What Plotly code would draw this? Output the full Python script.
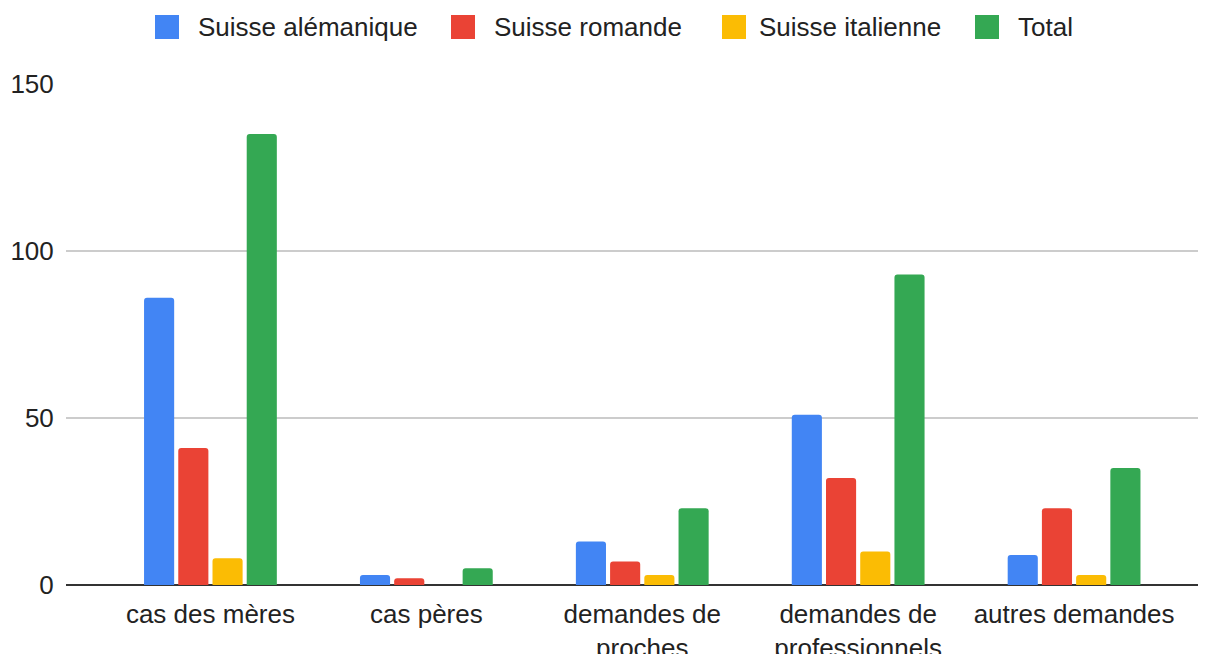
"""Grouped bar chart: demandes par région linguistique."""
import plotly.graph_objects as go

# --- data ---
CATEGORIES = [
    "cas des mères",
    "cas pères",
    "demandes de<br>proches",
    "demandes de<br>professionnels",
    "autres demandes",
]
SERIES_NAMES = ["Suisse alémanique", "Suisse romande", "Suisse italienne", "Total"]
ALEMANIQUE = [86, 3, 13, 51, 9]
ROMANDE = [41, 2, 7, 32, 23]
ITALIENNE = [8, 0, 3, 10, 3]
TOTAL = [135, 5, 23, 93, 35]
Y_TICKS = [0, 50, 100, 150]

# --- style ---
COLORS = ["#4285F4", "#EA4335", "#FBBC04", "#34A853"]
FONT = "Liberation Sans, Arial, sans-serif"
TEXT = "#222222"
FS = 26

# page is 1206 x 654; the html body adds an 8px margin, so the figure
# itself sits at (8, 8)
OFF = 8
W, H = 1206 - OFF, 654 - OFF
L, R, T, B = 66 - OFF, 0, 84 - OFF, 69
PLOT_W = W - L - R
PLOT_H = H - T - B


def px_to_paper(x, y):
    """Page pixel -> paper coords."""
    return (x - OFF - L) / PLOT_W, (H - B - (y - OFF)) / PLOT_H


fig = go.Figure()
for name, values, color in zip(SERIES_NAMES, [ALEMANIQUE, ROMANDE, ITALIENNE, TOTAL], COLORS):
    fig.add_trace(go.Bar(
        x=CATEGORIES, y=values, name=name,
        marker=dict(color=color, line=dict(width=0)),
        showlegend=False, hoverinfo="x+y+name",
    ))

# hand-drawn legend: big squares + labels across the top
legend_items = [(155, 196), (451, 492), (722, 757), (975, 1016)]
for (sq_x, tx_x), name, color in zip(legend_items, SERIES_NAMES, COLORS):
    x0, y0 = px_to_paper(sq_x, 39)
    x1, y1 = px_to_paper(sq_x + 24, 15)
    fig.add_shape(type="rect", xref="paper", yref="paper",
                  x0=x0, y0=y0, x1=x1, y1=y1,
                  fillcolor=color, line=dict(width=0))
    ax, ay = px_to_paper(tx_x, 27)
    fig.add_annotation(text=name, xref="paper", yref="paper", x=ax, y=ay,
                       xanchor="left", yanchor="middle", showarrow=False,
                       font=dict(family=FONT, size=FS, color=TEXT))

fig.update_layout(
    width=W, height=H,
    margin=dict(l=L, r=R, t=T, b=B, autoexpand=False),
    barmode="group",
    bargap=0.366,
    bargroupgap=0.12,
    barcornerradius=3,
    plot_bgcolor="#ffffff",
    paper_bgcolor="#ffffff",
    font=dict(family=FONT, size=FS, color=TEXT),
    showlegend=False,
    xaxis=dict(
        range=[-0.669, 4.611],
        showgrid=False, showline=False, zeroline=False,
        ticks="outside", ticklen=6, tickcolor="rgba(0,0,0,0)",
        tickfont=dict(family=FONT, size=FS, color=TEXT),
        automargin=False, fixedrange=True,
    ),
    yaxis=dict(
        range=[0, 150],
        tickvals=Y_TICKS,
        showgrid=True, gridcolor="#cccccc", gridwidth=1.5,
        zeroline=True, zerolinecolor="#333333", zerolinewidth=2,
        showline=False,
        ticks="outside", ticklen=6, tickcolor="rgba(0,0,0,0)",
        tickfont=dict(family=FONT, size=FS, color=TEXT),
        automargin=False, fixedrange=True,
    ),
)

fig.write_html("out.html", config={"displayModeBar": False})
